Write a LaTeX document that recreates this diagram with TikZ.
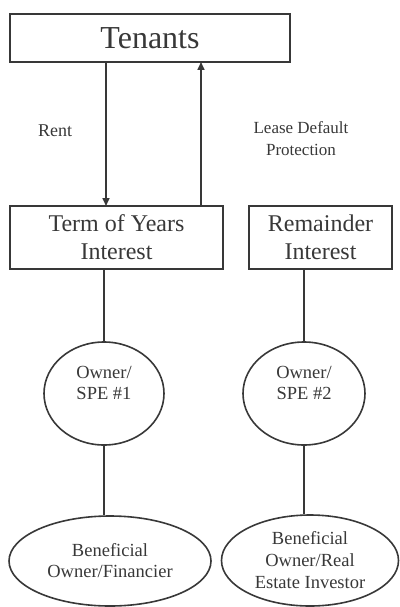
\documentclass[tikz,border=0pt]{standalone}
\usepackage{fontspec}
\setmainfont{Liberation Serif}
\usetikzlibrary{shapes.geometric,arrows.meta}
\definecolor{ink}{HTML}{383838}
\begin{document}
\begin{tikzpicture}[x=1pt,y=-1pt,
  box/.style={draw=ink,line width=1.6pt,text=ink,inner sep=0pt,align=center},
  oval/.style={ellipse,draw=ink,line width=1.6pt,text=ink,inner sep=0pt,align=center},
  conn/.style={draw=ink,line width=1.6pt},
  lbl/.style={text=ink,align=center},
  tip/.style={-{Triangle[length=8pt,width=7pt]}}]
\useasboundingbox (0,0) rectangle (399,607);
\node[box,minimum width=280pt,minimum height=48pt,font=\fontsize{32}{36}\selectfont] (ten) at (150,38) {Tenants};
\node[box,minimum width=213pt,minimum height=63pt,font=\fontsize{24}{28}\selectfont] (term) at (116.5,237.5) {Term of Years\\Interest};
\node[box,minimum width=143pt,minimum height=63pt,font=\fontsize{24}{28}\selectfont] (rem) at (320.5,237.5) {Remainder\\Interest};
\node[oval,minimum width=120pt,minimum height=103pt] (o1) at (104,393.5) {};
\node[lbl,font=\fontsize{18.5}{21}\selectfont] (o1t) at (104,383) {Owner/\\SPE \#1};
\node[oval,minimum width=122pt,minimum height=103pt] (o2) at (304,393.5) {};
\node[lbl,font=\fontsize{18.5}{21}\selectfont] (o2t) at (304,383) {Owner/\\SPE \#2};
\node[oval,minimum width=202pt,minimum height=90pt,font=\fontsize{18.5}{21}\selectfont] (b1) at (110,561) {Beneficial\\Owner/Financier};
\node[oval,minimum width=177pt,minimum height=91pt,font=\fontsize{18.5}{22}\selectfont] (b2) at (310,560.5) {Beneficial\\Owner/Real\\Estate Investor};
\node[lbl,font=\fontsize{18}{21}\selectfont] (rent) at (55,131) {Rent};
\node[lbl,font=\fontsize{17}{22}\selectfont] (ldp) at (301,139) {Lease Default\\Protection};
\coordinate (r1) at (106,62);
\coordinate (r2) at (106,206);
\coordinate (p1) at (201,206);
\coordinate (p2) at (201,62);
\draw[conn,tip] (r1) -- (r2);
\draw[conn,tip] (p1) -- (p2);
\draw[conn] (term.south -| o1.north) -- (o1.north);
\draw[conn] (rem.south -| o2.north) -- (o2.north);
\draw[conn] (o1.south) -- (o1.south |- b1.north);
\draw[conn] (o2.south) -- (o2.south |- b2.north);
\end{tikzpicture}
\end{document}
